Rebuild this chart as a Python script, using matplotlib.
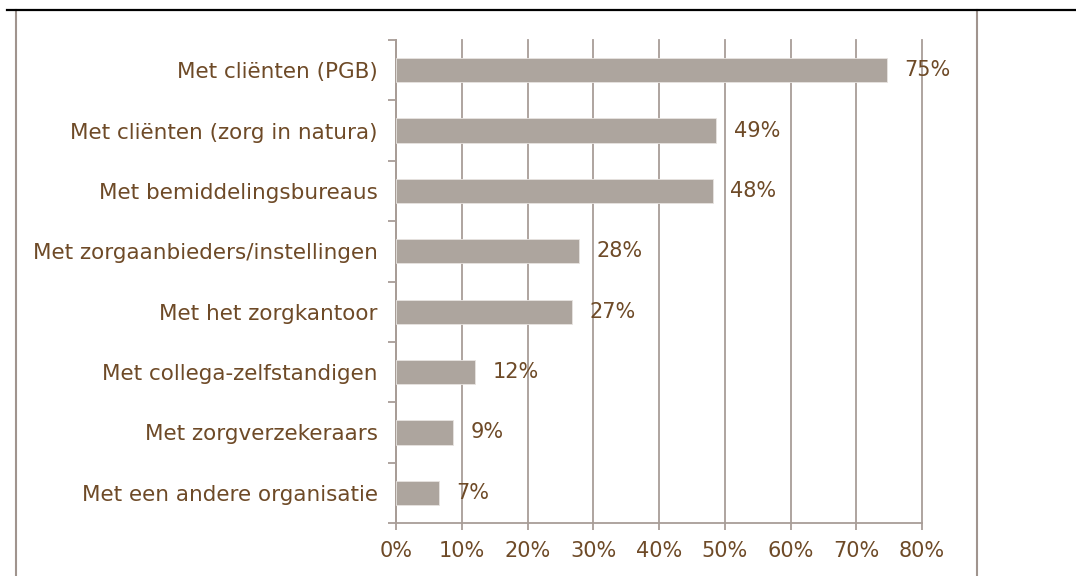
import matplotlib
matplotlib.use("Agg")
import matplotlib.pyplot as plt
from matplotlib.lines import Line2D
import numpy as np

categories = [
    "Met cliënten (PGB)",
    "Met cliënten (zorg in natura)",
    "Met bemiddelingsbureaus",
    "Met zorgaanbieders/instellingen",
    "Met het zorgkantoor",
    "Met collega-zelfstandigen",
    "Met zorgverzekeraars",
    "Met een andere organisatie",
]
values = [74.7, 48.7, 48.2, 27.8, 26.8, 12.0, 8.7, 6.5]
value_labels = ["75%", "49%", "48%", "28%", "27%", "12%", "9%", "7%"]
xticks = [0, 10, 20, 30, 40, 50, 60, 70, 80]
xtick_labels = ["0%", "10%", "20%", "30%", "40%", "50%", "60%", "70%", "80%"]

text_color = "#6e4a27"
grid_color = "#a89d97"
bar_color = "#ada59e"

plt.rcParams['font.family'] = ['DejaVu Sans']

fig = plt.figure(figsize=(10.76, 5.76), dpi=100)
W, H = 1076, 576
ax = fig.add_axes([396 / W, 1 - 523 / H, (922 - 396) / W, (523 - 40) / H])

y = np.arange(len(categories))
ax.barh(y, values, height=0.40, color=bar_color, edgecolor="#e8e4e0", linewidth=0.6, zorder=3)
ax.set_ylim(len(categories) - 0.5, -0.5)
ax.set_xlim(0, 80)

ax.set_xticks(xticks)
ax.set_xticklabels(xtick_labels, color=text_color, fontsize=15)
ax.set_yticks(y)
ax.set_yticklabels(categories, color=text_color, fontsize=15.5)
ax.set_yticks(np.arange(-0.5, len(categories) + 0.5, 1), minor=True)
ax.tick_params(axis='y', which='major', length=0, pad=13)
ax.tick_params(axis='y', which='minor', length=6, width=1.3, color=grid_color, direction='out')
ax.tick_params(axis='x', which='major', length=5, width=1.3, color=grid_color, direction='out', pad=8)

ax.grid(axis='x', color=grid_color, linewidth=1.3, zorder=0)
for gl in ax.get_xgridlines():
    gl.set_clip_on(False)
for s in ["top", "right"]:
    ax.spines[s].set_visible(False)
for s in ["left", "bottom"]:
    ax.spines[s].set_color(grid_color)
    ax.spines[s].set_linewidth(1.3)

for yi, v, lab in zip(y, values, value_labels):
    ax.annotate(lab, xy=(v, yi), xytext=(12.5, 0), textcoords='offset points',
                va='center', ha='left', color=text_color, fontsize=15, zorder=4)

# outer frame
fig.add_artist(Line2D([16 / W, 16 / W], [0, 1 - 10 / H], color="#a0948e", linewidth=1.5, transform=fig.transFigure))
fig.add_artist(Line2D([977 / W, 977 / W], [0, 1 - 10 / H], color="#a0948e", linewidth=1.5, transform=fig.transFigure))
fig.add_artist(Line2D([7 / W, 1], [1 - 10 / H, 1 - 10 / H], color="black", linewidth=1.6, transform=fig.transFigure))

fig.savefig("out.png", dpi=100)
